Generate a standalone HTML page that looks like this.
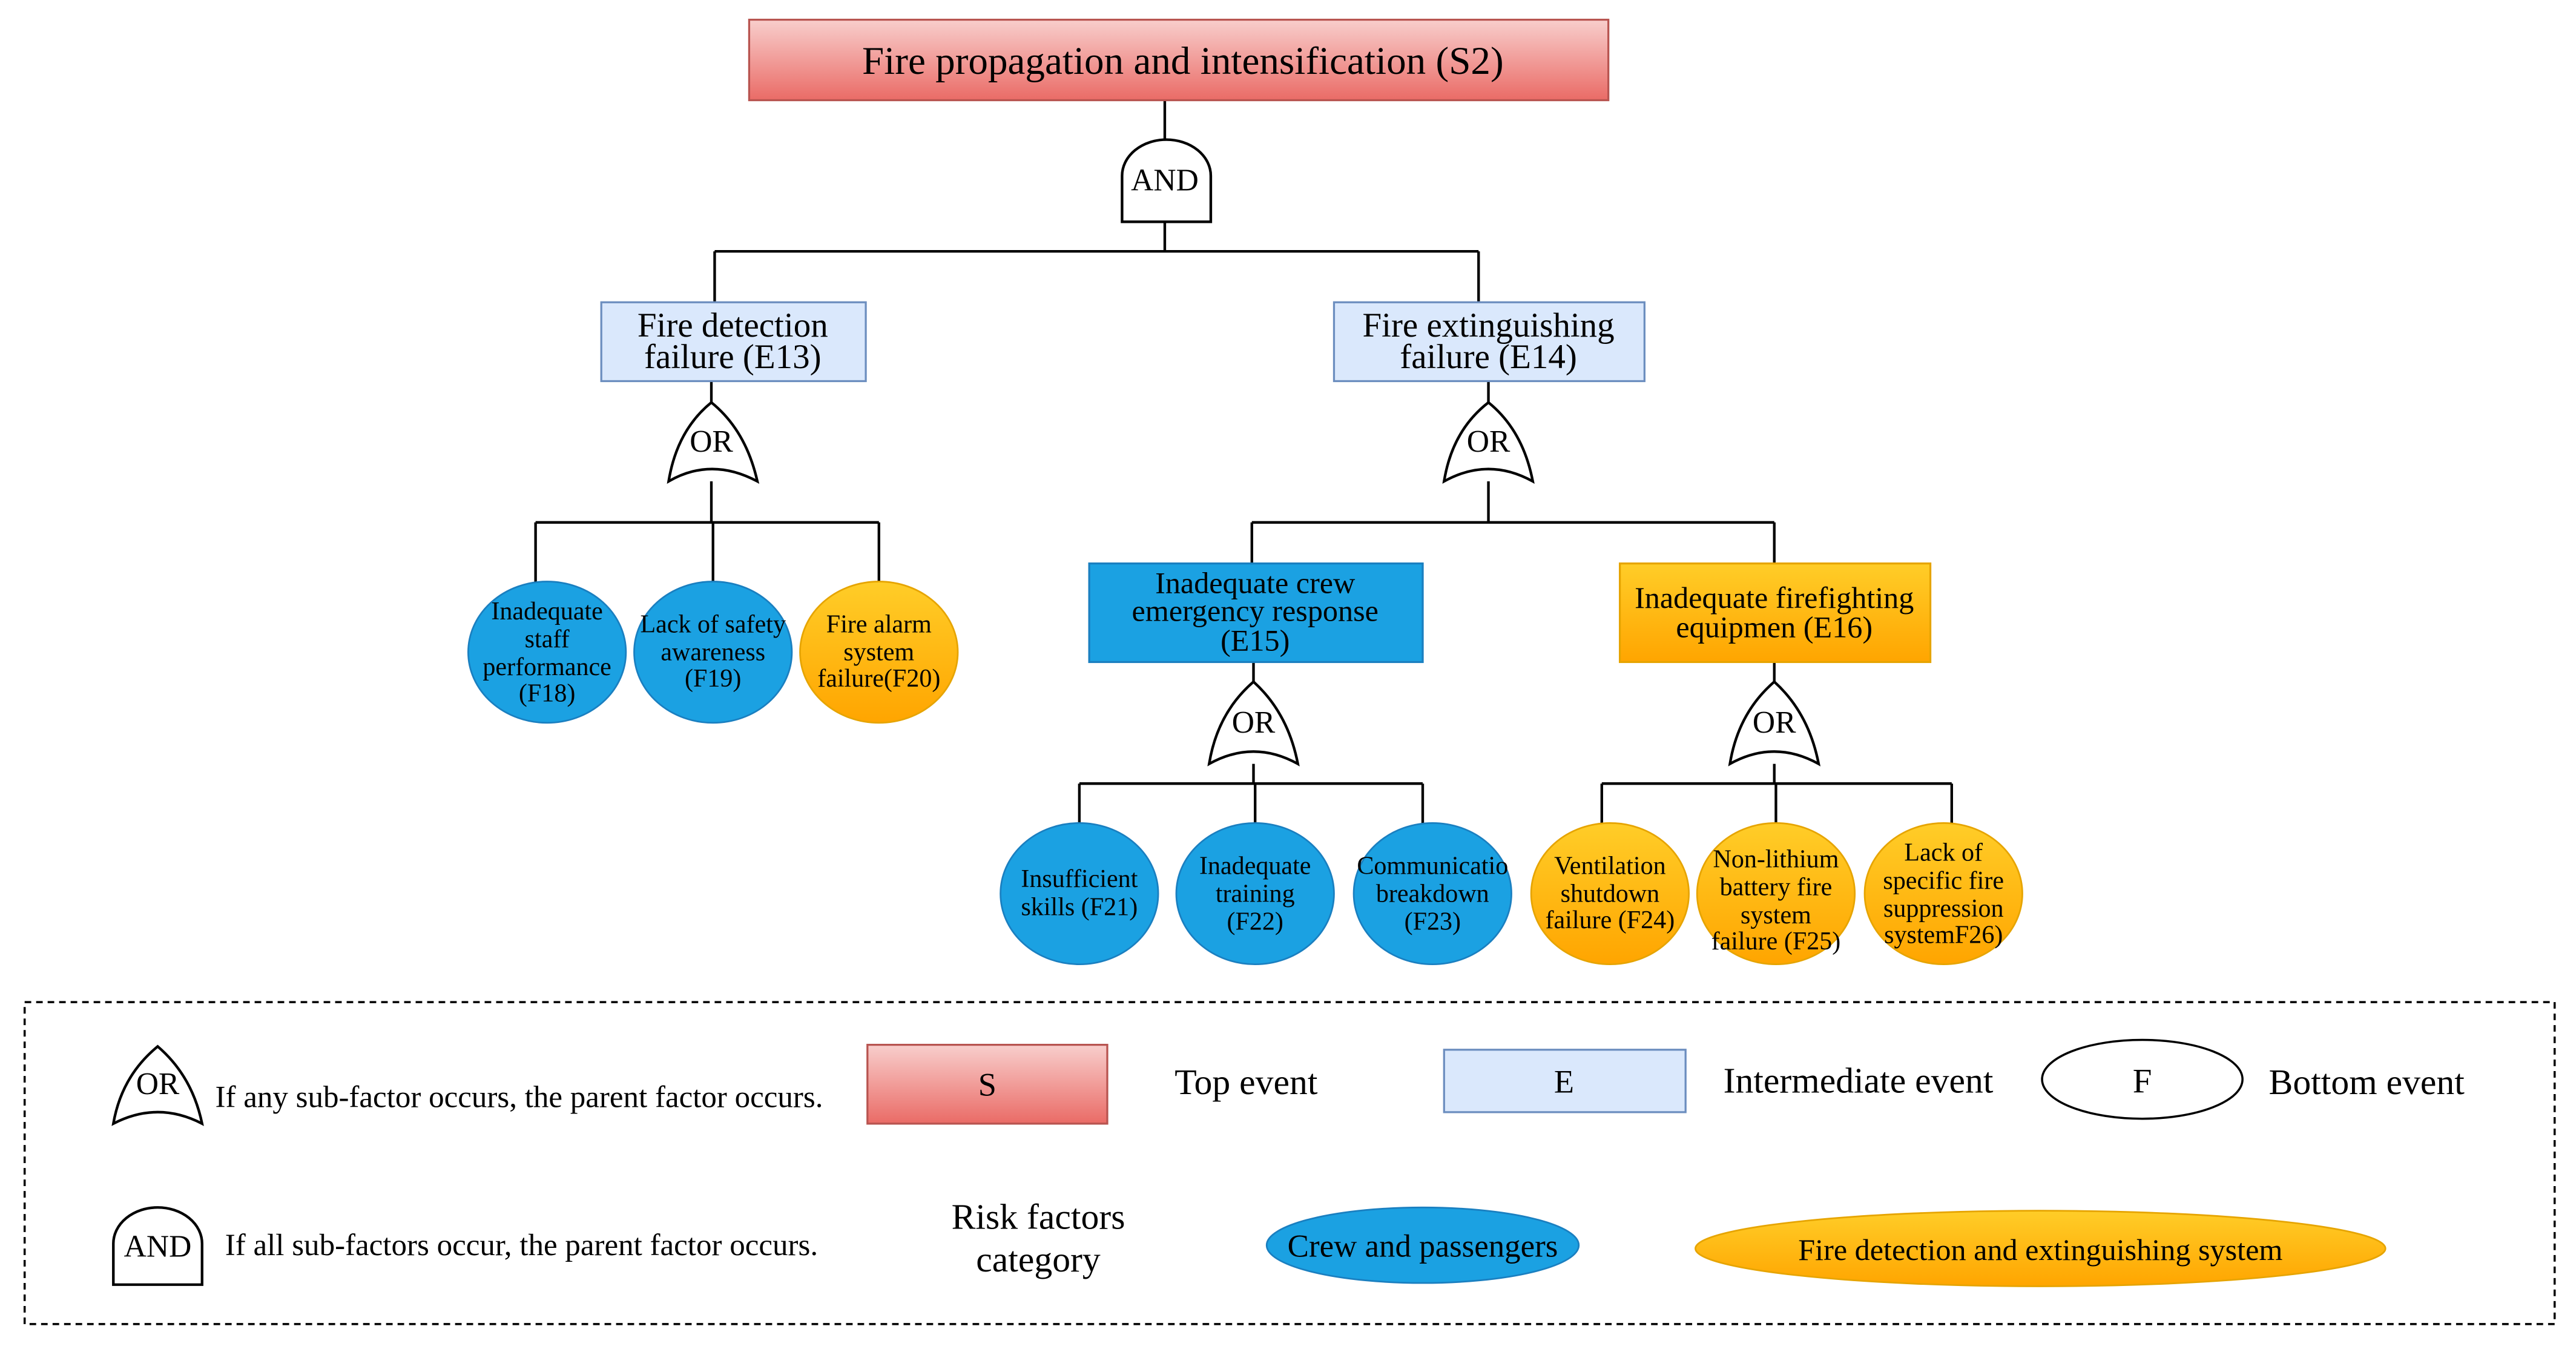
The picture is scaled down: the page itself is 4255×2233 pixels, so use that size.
<!DOCTYPE html>
<html><head><meta charset="utf-8"><style>html,body{margin:0;padding:0;background:#fff}svg{display:block}</style></head>
<body>
<svg width="4255" height="2233" viewBox="0 0 1568 823" preserveAspectRatio="none" xmlns="http://www.w3.org/2000/svg" font-family="Liberation Serif, serif">
<defs>
<linearGradient id="red" x1="0" y1="0" x2="0" y2="1"><stop offset="0" stop-color="#f8cecc"/><stop offset="1" stop-color="#ea6b66"/></linearGradient>
<linearGradient id="org" x1="0" y1="0" x2="0" y2="1"><stop offset="0" stop-color="#ffcd28"/><stop offset="1" stop-color="#ffa500"/></linearGradient>
</defs>
<g stroke="#000" stroke-width="1.6" fill="none">
<path d="M709 61V85M709 135V153M435 153H900M435 153V184M900 153V184"/>
<path d="M433 232V245M433 293V318M326 318H535M326 318V355M434 318V355M535 318V355"/>
<path d="M906 232V245M906 293V318M762 318H1080M762 318V343M1080 318V343"/>
<path d="M763 403V415M763 465V477M657 477H866M657 477V502M764 477V502M866 477V502"/>
<path d="M1080 403V415M1080 465V477M975 477H1188M975 477V502M1081 477V502M1188 477V502"/>
</g>
<rect x="456" y="12" width="523" height="49" fill="url(#red)" stroke="#b85450" stroke-width="1.2"/>
<text x="720" y="45" font-size="24" text-anchor="middle">Fire propagation and intensification (S2)</text>
<g fill="#fff" stroke="#000" stroke-width="1.6">
<path d="M683 135V107A27 22 0 0 1 737 107V135Z"/>
<path d="M407 293Q412 262 433 245Q454 262 461 293Q433 278 407 293Z"/>
<path d="M879 293Q884 262 906 245Q927 262 933 293Q906 278 879 293Z"/>
<path d="M736 465Q741 434 763 415Q784 434 790 465Q763 450 736 465Z"/>
<path d="M1053 465Q1058 434 1080 415Q1101 434 1107 465Q1080 450 1053 465Z"/>
</g>
<g font-size="19" text-anchor="middle">
<text x="709" y="116">AND</text>
<text x="433" y="275">OR</text><text x="906" y="275">OR</text>
<text x="763" y="446">OR</text><text x="1080" y="446">OR</text>
</g>
<rect x="366" y="184" width="161" height="48" fill="#dae8fc" stroke="#6c8ebf" stroke-width="1.2"/>
<rect x="812" y="184" width="189" height="48" fill="#dae8fc" stroke="#6c8ebf" stroke-width="1.2"/>
<rect x="663" y="343" width="203" height="60" fill="#1ba1e2" stroke="#1a7fc0" stroke-width="1.2"/>
<rect x="986" y="343" width="189" height="60" fill="url(#org)" stroke="#e6a400" stroke-width="1.2"/>
<g font-size="21" text-anchor="middle">
<text x="446" y="205">Fire detection</text><text x="446" y="224">failure (E13)</text>
<text x="906" y="205">Fire extinguishing</text><text x="906" y="224">failure (E14)</text>
</g>
<g font-size="18.5" text-anchor="middle">
<text x="764" y="361">Inadequate crew</text><text x="764" y="378">emergency response</text><text x="764" y="396">(E15)</text>
<text x="1080" y="370">Inadequate firefighting</text><text x="1080" y="388">equipmen (E16)</text>
</g>
<g stroke-width="1">
<ellipse cx="333" cy="397" rx="48" ry="43" fill="#1ba1e2" stroke="#1a7fc0"/>
<ellipse cx="434" cy="397" rx="48" ry="43" fill="#1ba1e2" stroke="#1a7fc0"/>
<ellipse cx="535" cy="397" rx="48" ry="43" fill="url(#org)" stroke="#e6a400"/>
<ellipse cx="657" cy="544" rx="48" ry="43" fill="#1ba1e2" stroke="#1a7fc0"/>
<ellipse cx="764" cy="544" rx="48" ry="43" fill="#1ba1e2" stroke="#1a7fc0"/>
<ellipse cx="872" cy="544" rx="48" ry="43" fill="#1ba1e2" stroke="#1a7fc0"/>
<ellipse cx="980" cy="544" rx="48" ry="43" fill="url(#org)" stroke="#e6a400"/>
<ellipse cx="1081" cy="544" rx="48" ry="43" fill="url(#org)" stroke="#e6a400"/>
<ellipse cx="1183" cy="544" rx="48" ry="43" fill="url(#org)" stroke="#e6a400"/>
</g>
<g font-size="15.5" text-anchor="middle">
<text x="333" y="377">Inadequate</text><text x="333" y="394">staff</text><text x="333" y="411">performance</text><text x="333" y="427">(F18)</text>
<text x="434" y="385">Lack of safety</text><text x="434" y="402">awareness</text><text x="434" y="418">(F19)</text>
<text x="535" y="385">Fire alarm</text><text x="535" y="402">system</text><text x="535" y="418">failure(F20)</text>
<text x="657" y="540">Insufficient</text><text x="657" y="557">skills (F21)</text>
<text x="764" y="532">Inadequate</text><text x="764" y="549">training</text><text x="764" y="566">(F22)</text>
<text x="872" y="532">Communicatio</text><text x="872" y="549">breakdown</text><text x="872" y="566">(F23)</text>
<text x="980" y="532">Ventilation</text><text x="980" y="549">shutdown</text><text x="980" y="565">failure (F24)</text>
<text x="1081" y="528">Non-lithium</text><text x="1081" y="545">battery fire</text><text x="1081" y="562">system</text><text x="1081" y="578">failure (F25)</text>
<text x="1183" y="524">Lack of</text><text x="1183" y="541">specific fire</text><text x="1183" y="558">suppression</text><text x="1183" y="574">systemF26)</text>
</g>
<rect x="15" y="610" width="1540" height="196" fill="none" stroke="#000" stroke-width="1.3" stroke-dasharray="4 3"/>
<g fill="#fff" stroke="#000" stroke-width="1.6">
<path d="M69 684Q74 655 96 637Q117 655 123 684Q96 670 69 684Z"/>
<path d="M69 782V757A27 22 0 0 1 123 757V782Z"/>
</g>
<text x="96" y="666" font-size="19" text-anchor="middle">OR</text>
<text x="96" y="765" font-size="19" text-anchor="middle">AND</text>
<text x="131" y="674" font-size="18.8">If any sub-factor occurs, the parent factor occurs.</text>
<text x="137" y="764" font-size="18.8">If all sub-factors occur, the parent factor occurs.</text>
<rect x="528" y="636" width="146" height="48" fill="url(#red)" stroke="#b85450" stroke-width="1.2"/>
<text x="601" y="667" font-size="20" text-anchor="middle">S</text>
<text x="715" y="666" font-size="22">Top event</text>
<rect x="879" y="639" width="147" height="38" fill="#dae8fc" stroke="#6c8ebf" stroke-width="1.2"/>
<text x="952" y="665" font-size="20" text-anchor="middle">E</text>
<text x="1049" y="665" font-size="22">Intermediate event</text>
<ellipse cx="1304" cy="657" rx="61" ry="24" fill="#fff" stroke="#000" stroke-width="1.3"/>
<text x="1304" y="665" font-size="21" text-anchor="middle">F</text>
<text x="1381" y="666" font-size="22">Bottom event</text>
<text x="632" y="748" font-size="22" text-anchor="middle">Risk factors</text>
<text x="632" y="774" font-size="22" text-anchor="middle">category</text>
<ellipse cx="866" cy="758" rx="95" ry="23" fill="#1ba1e2" stroke="#1a7fc0"/>
<text x="866" y="765" font-size="19.5" text-anchor="middle">Crew and passengers</text>
<ellipse cx="1242" cy="760" rx="210" ry="23" fill="url(#org)" stroke="#e6a400"/>
<text x="1242" y="767" font-size="18.5" text-anchor="middle">Fire detection and extinguishing system</text>
</svg>
</body></html>
